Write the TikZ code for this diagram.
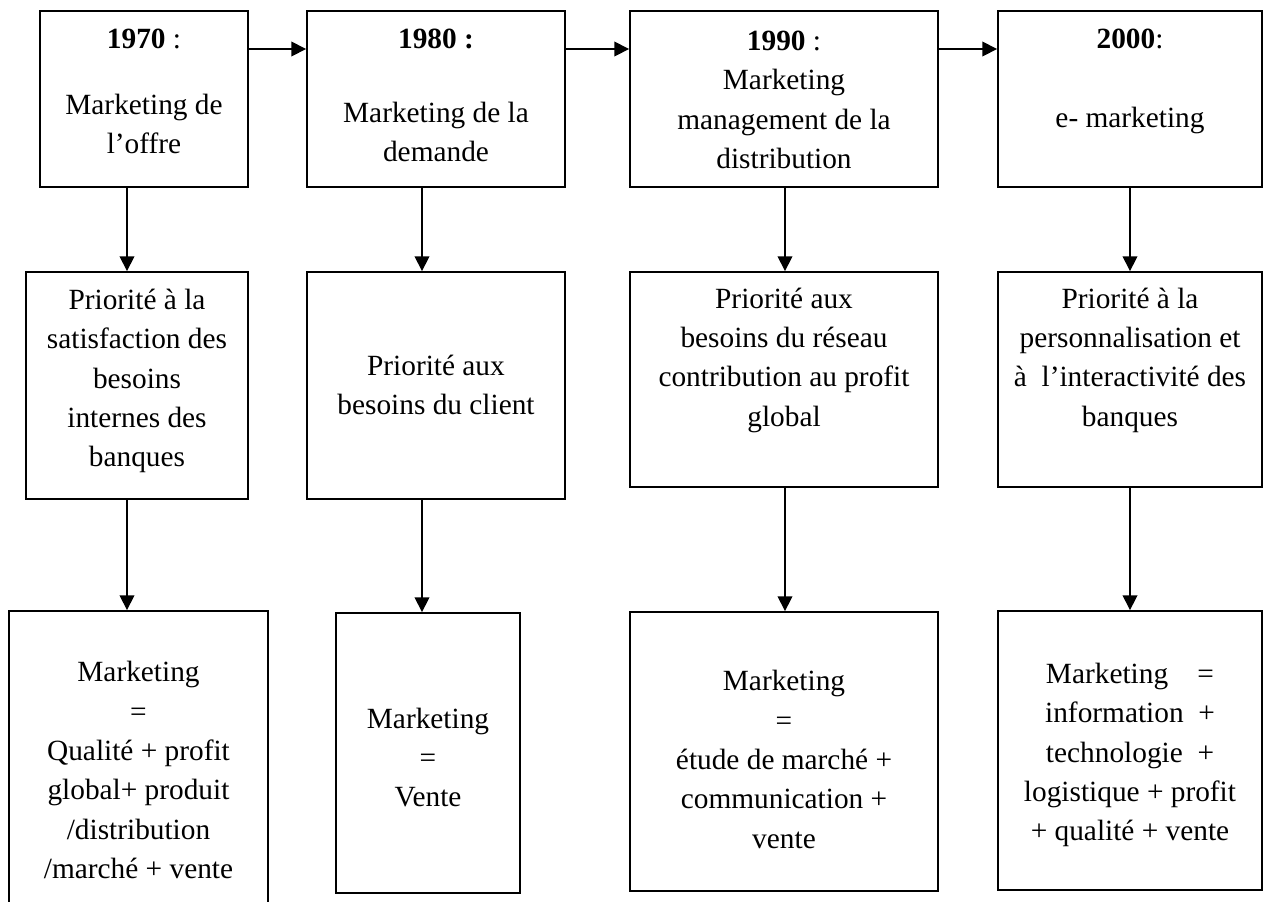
\documentclass[tikz,border=0pt]{standalone}
\usepackage{fontspec}
\setmainfont{Liberation Serif}
\usetikzlibrary{fit,arrows.meta}

\begin{document}
\begin{tikzpicture}[x=0.75pt,y=-0.75pt,
  box/.style={draw, line width=1.4pt, inner sep=0pt, rectangle},
  txt/.style={align=center, inner sep=0pt, font=\fontsize{22}{29.5}\selectfont},
  arr/.style={line width=1.1pt, -{Triangle[length=11pt,width=11pt]}}]
\useasboundingbox (0,0) rectangle (1273,901);
\clip (0,0) rectangle (1273,901);

% reference lines for the connectors
\coordinate (hline) at (0,49);
\coordinate (col1) at (127,0);
\coordinate (col2) at (422,0);
\coordinate (col3) at (785,0);
\coordinate (col4) at (1130,0);

% row 1: periods
\node[box, fit={(40,11) (248,187)}] (r11) {};
\node[box, fit={(307,11) (565,187)}] (r12) {};
\node[box, fit={(630,11) (938,187)}] (r13) {};
\node[box, fit={(998,11) (1262,187)}] (r14) {};

% row 2: priorities
\node[box, fit={(26,272) (248,499)}] (r21) {};
\node[box, fit={(307,272) (565,499)}] (r22) {};
\node[box, fit={(630,272) (938,487)}] (r23) {};
\node[box, fit={(998,272) (1262,487)}] (r24) {};

% row 3: definitions
\node[box, fit={(9,611) (268,940)}] (r31) {};
\node[box, fit={(336,613) (520,893)}] (r32) {};
\node[box, fit={(630,612) (938,891)}] (r33) {};
\node[box, fit={(998,611) (1262,890)}] (r34) {};

% texts
\node[txt] (t11) at (144,91.5) {\textbf{1970} :\\[20pt] Marketing de\\ l’offre};
\node[txt] (t12) at (436,95.5) {\textbf{1980 :}\\[26pt] Marketing de la\\ demande};
\node[txt] (t13) at (784,100) {\textbf{1990} :\\ Marketing\\ management de la\\ distribution};
\node[txt] (t14) at (1130,81.5) {\textbf{2000}:\\[30pt] e- marketing};

\node[txt] (t21) at (137,381) {Priorité à la\\ satisfaction des\\ besoins\\ internes des\\ banques};
\node[txt] (t22) at (436,385) {Priorité aux\\ besoins du client};
\node[txt] (t23) at (784,360) {Priorité aux\\ besoins du réseau\\ contribution au profit\\ global};
\node[txt] (t24) at (1130,360) {Priorité à la\\ personnalisation et\\ à\ \ l’interactivité des\\ banques};

\node[txt] (t31) at (138.5,770) {Marketing\\ =\\ Qualité + profit\\ global+ produit\\ /distribution\\ /marché + vente};
\node[txt] (t32) at (428,757.5) {Marketing\\ =\\ Vente};
\node[txt] (t33) at (784,759.5) {Marketing\\ =\\ étude de marché +\\ communication +\\ vente};
\node[txt] (t34) at (1130,755) {Marketing\ \ \ \ =\\ information\ \ +\\ technologie\ \ +\\ logistique + profit\\ + qualité + vente};

% horizontal timeline arrows
\draw[arr] (r11.east |- hline) -- (r12.west |- hline);
\draw[arr] (r12.east |- hline) -- (r13.west |- hline);
\draw[arr] (r13.east |- hline) -- (r14.west |- hline);

% vertical arrows
\draw[arr] (r11.south -| col1) -- (r21.north -| col1);
\draw[arr] (r21.south -| col1) -- (r31.north -| col1);
\draw[arr] (r12.south -| col2) -- (r22.north -| col2);
\draw[arr] (r22.south -| col2) -- (r32.north -| col2);
\draw[arr] (r13.south -| col3) -- (r23.north -| col3);
\draw[arr] (r23.south -| col3) -- (r33.north -| col3);
\draw[arr] (r14.south -| col4) -- (r24.north -| col4);
\draw[arr] (r24.south -| col4) -- (r34.north -| col4);
\end{tikzpicture}
\end{document}
